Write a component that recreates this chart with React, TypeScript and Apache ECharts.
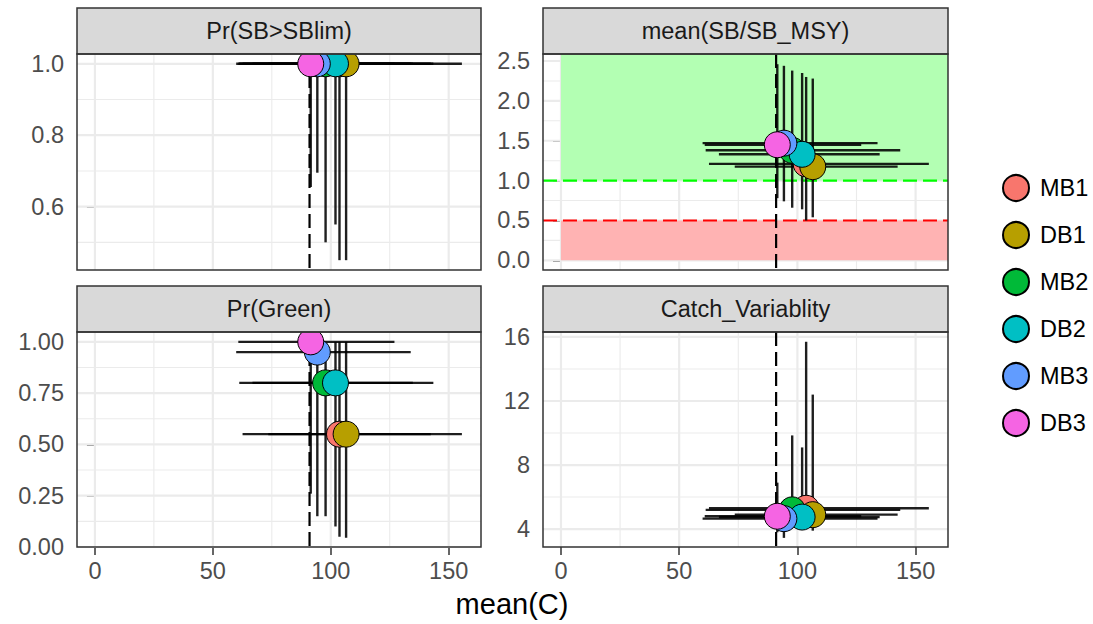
import React, { useEffect, useRef } from 'react';
import * as echarts from 'echarts';

// ---- data ----
const mps = ['MB1', 'DB1', 'MB2', 'DB2', 'MB3', 'DB3'];
const mpColors = ['#F8766D', '#B79F00', '#00BA38', '#00BFC4', '#619CFF', '#F564E3'];

// x: mean(C) with interval
const meanC = [103.7, 106.5, 97.8, 102.0, 94.3, 91.5];
const meanCLo = [62.6, 73.5, 61.2, 66.8, 59.9, 60.8];
const meanCHi = [155.6, 142.4, 143.5, 134.8, 133.9, 127.0];

const panelTitles = ['Pr(SB>SBlim)', 'mean(SB/SB_MSY)', 'Pr(Green)', 'Catch_Variablity'];

const prSB = [1.0, 1.0, 1.0, 1.0, 1.0, 1.0];
const prSBLo = [0.45, 0.45, 0.5, 0.55, 0.695, 0.655];
const prSBHi = [1.0, 1.0, 1.0, 1.0, 1.0, 1.0];

const sbMsy = [1.21, 1.175, 1.38, 1.33, 1.47, 1.45];
const sbMsyLo = [0.5, 0.54, 0.66, 0.64, 0.74, 0.78];
const sbMsyHi = [2.3, 2.28, 2.38, 2.35, 2.44, 2.46];

const prGreen = [0.55, 0.55, 0.8, 0.8, 0.95, 1.0];
const prGreenLo = [0.05, 0.045, 0.15, 0.1, 0.15, 0.26];
const prGreenHi = [1.0, 1.0, 1.0, 1.0, 1.0, 1.0];

const catchVar = [5.3, 4.9, 5.2, 4.75, 4.65, 4.8];
const catchVarLo = [4.3, 3.9, 4.3, 4.1, 3.45, 3.8];
const catchVarHi = [15.7, 12.4, 9.85, 9.1, 5.6, 6.9];

const refMeanC = [91];
// reference lines and zones for mean(SB/SB_MSY)
const sbRefLines = [1.0, 0.5];
const sbRefColors = ['#00FF00', '#FF0000'];
const zoneXMin = [0, 0];
const zoneYMin = [1.0, 0.0];
const zoneYMax = [Infinity, 0.5];
const zoneColors = ['#B3FFB3', '#FFB3B3'];

// ticks
const xTicks = [0, 50, 100, 150];
const xMinor = [25, 75, 125];
const yTicksList = [
  [0.6, 0.8, 1.0],
  [0.0, 0.5, 1.0, 1.5, 2.0, 2.5],
  [0.0, 0.25, 0.5, 0.75, 1.0],
  [4, 8, 12, 16],
];
const yMinorList = [
  [0.5, 0.7, 0.9],
  [0.25, 0.75, 1.25, 1.75, 2.25],
  [0.125, 0.375, 0.625, 0.875],
  [6, 10, 14],
];
const yDecimals = [1, 1, 2, 0];

const FONT = '"Liberation Sans", Arial, Helvetica, sans-serif';
const FS = 23.5;
const X_MIN = -7.6;
const X_MAX = 163.7;

const panelRects = [
  { left: 77, top: 54, width: 404, height: 216 },
  { left: 543, top: 54, width: 405, height: 216 },
  { left: 77, top: 332, width: 404, height: 215 },
  { left: 543, top: 332, width: 405, height: 215 },
];
const yRanges = [
  [0.4225, 1.0275],
  [-0.121, 2.588],
  [0, 1.048],
  [2.88, 16.31],
];
const STRIP_H = 46;

export default function App() {
  const ref = useRef<HTMLDivElement>(null);
  useEffect(() => {
    if (!ref.current) return;
    const chart = echarts.init(ref.current, undefined, { renderer: 'svg' });

    const yVals = [prSB, sbMsy, prGreen, catchVar];
    const yLos = [prSBLo, sbMsyLo, prGreenLo, catchVarLo];
    const yHis = [prSBHi, sbMsyHi, prGreenHi, catchVarHi];

    const grids: any[] = [];
    const xAxes: any[] = [];
    const yAxes: any[] = [];
    const series: any[] = [];
    const graphics: any[] = [];

    for (let p = 0; p < 4; p++) {
      const r = panelRects[p];
      const bottomRow = p >= 2;
      const [yMin, yMax] = yRanges[p];
      grids.push({ left: r.left, top: r.top, width: r.width, height: r.height, show: false });
      xAxes.push({
        type: 'value', gridIndex: p, min: X_MIN, max: X_MAX,
        axisLine: { show: false },
        splitLine: { show: false },
        axisTick: { show: bottomRow, customValues: xTicks, length: 8, lineStyle: { color: '#333333', width: 1.5 } },
        axisLabel: { show: bottomRow, customValues: xTicks, margin: 12, fontSize: FS, color: '#4D4D4D', fontFamily: FONT },
      });
      yAxes.push({
        type: 'value', gridIndex: p, min: yMin, max: yMax,
        axisLine: { show: false },
        splitLine: { show: false },
        axisTick: { show: true, customValues: yTicksList[p], length: 8, lineStyle: { color: '#333333', width: 1.5 } },
        axisLabel: {
          show: true, customValues: yTicksList[p], margin: 13, fontSize: FS, color: '#4D4D4D', fontFamily: FONT,
          formatter: (v: number) => Number(v).toFixed(yDecimals[p]),
        },
      });

      // grid lines
      const gl: number[][] = [];
      xTicks.forEach((v) => gl.push([v, 0, 1]));
      xMinor.forEach((v) => gl.push([v, 0, 0]));
      yTicksList[p].forEach((v) => gl.push([v, 1, 1]));
      yMinorList[p].forEach((v) => gl.push([v, 1, 0]));
      series.push({
        type: 'custom', xAxisIndex: p, yAxisIndex: p, z: 1, silent: true,
        data: gl,
        encode: { x: 0, y: 1 },
        renderItem: (params: any, api: any) => {
          const cs = params.coordSys;
          const v = api.value(0), o = api.value(1), m = api.value(2);
          const style = { stroke: '#EBEBEB', lineWidth: m ? 2.2 : 1.1 };
          if (o === 0) {
            const px = api.coord([v, yMin])[0];
            return { type: 'line', shape: { x1: px, y1: cs.y, x2: px, y2: cs.y + cs.height }, style };
          }
          const py = api.coord([X_MIN, v])[1];
          return { type: 'line', shape: { x1: cs.x, y1: py, x2: cs.x + cs.width, y2: py }, style };
        },
      });

      if (p === 1) {
        // zones
        series.push({
          type: 'custom', xAxisIndex: p, yAxisIndex: p, z: 2, silent: true,
          data: zoneXMin.map((x0, i) => [x0, zoneYMin[i], Math.min(zoneYMax[i], yMax), i]),
          encode: { x: 0, y: 1 },
          renderItem: (params: any, api: any) => {
            const cs = params.coordSys;
            const a = api.coord([api.value(0), api.value(1)]);
            const b = api.coord([api.value(0), api.value(2)]);
            const i = api.value(3);
            return {
              type: 'rect',
              shape: { x: a[0], y: b[1], width: cs.x + cs.width - a[0], height: a[1] - b[1] },
              style: { fill: zoneColors[i] },
            };
          },
        });
        // horizontal reference lines
        series.push({
          type: 'custom', xAxisIndex: p, yAxisIndex: p, z: 3, silent: true,
          data: sbRefLines.map((v, i) => [X_MIN, v, i]),
          encode: { x: 0, y: 1 },
          renderItem: (params: any, api: any) => {
            const cs = params.coordSys;
            const py = api.coord([X_MIN, api.value(1)])[1];
            return {
              type: 'line',
              shape: { x1: cs.x, y1: py, x2: cs.x + cs.width, y2: py },
              style: { stroke: sbRefColors[api.value(2)], lineWidth: 2.2, lineDash: [14, 6] },
            };
          },
        });
      }

      // vertical reference line
      series.push({
        type: 'custom', xAxisIndex: p, yAxisIndex: p, z: 3, silent: true,
        data: refMeanC.map((v) => [v, yMin]),
        encode: { x: 0, y: 1 },
        renderItem: (params: any, api: any) => {
          const cs = params.coordSys;
          const px = api.coord([api.value(0), yMin])[0];
          return {
            type: 'line',
            shape: { x1: px, y1: cs.y, x2: px, y2: cs.y + cs.height },
            style: { stroke: '#000000', lineWidth: 2.2, lineDash: [14, 6] },
          };
        },
      });

      // error bars
      series.push({
        type: 'custom', xAxisIndex: p, yAxisIndex: p, z: 4, silent: true,
        data: mps.map((_, i) => [meanC[i], yVals[p][i], meanCLo[i], meanCHi[i], yLos[p][i], yHis[p][i]]),
        encode: { x: 0, y: 1 },
        renderItem: (params: any, api: any) => {
          const x = api.value(0), y = api.value(1);
          const a = api.coord([api.value(2), y]);
          const b = api.coord([api.value(3), y]);
          const c = api.coord([x, api.value(4)]);
          const d = api.coord([x, api.value(5)]);
          const style = { stroke: 'rgba(0,0,0,0.88)', lineWidth: 2.4 };
          return {
            type: 'group',
            children: [
              { type: 'line', shape: { x1: a[0], y1: a[1], x2: b[0], y2: b[1] }, style },
              { type: 'line', shape: { x1: c[0], y1: c[1], x2: d[0], y2: d[1] }, style },
            ],
          };
        },
      });

      // points
      mps.forEach((name, i) => {
        series.push({
          type: 'scatter', name, xAxisIndex: p, yAxisIndex: p, z: 5 + i * 0.01,
          symbol: 'circle', symbolSize: 26,
          itemStyle: { color: mpColors[i], borderColor: '#000000', borderWidth: 1, opacity: 1 },
          emphasis: { disabled: true },
          data: [[meanC[i], yVals[p][i]]],
        });
      });

      // strip
      graphics.push({
        type: 'rect', z: 100,
        shape: { x: r.left, y: r.top - STRIP_H, width: r.width, height: STRIP_H },
        style: { fill: '#D9D9D9', stroke: '#333333', lineWidth: 1.5 },
      });
      graphics.push({
        type: 'text', z: 101,
        x: r.left + r.width / 2, y: r.top - STRIP_H / 2,
        style: { text: panelTitles[p], fontSize: FS, fontFamily: FONT, fill: '#1A1A1A', align: 'center', verticalAlign: 'middle' },
      });
      // panel border
      graphics.push({
        type: 'rect', z: 100,
        shape: { x: r.left, y: r.top, width: r.width, height: r.height },
        style: { fill: 'none', stroke: '#333333', lineWidth: 1.5 },
      });
    }

    graphics.push({
      type: 'text', z: 101, x: 512, y: 604,
      style: { text: 'mean(C)', fontSize: 29, fontFamily: FONT, fill: '#000000', align: 'center', verticalAlign: 'middle' },
    });

    chart.setOption({
      animation: false,
      backgroundColor: '#FFFFFF',
      grid: grids,
      xAxis: xAxes,
      yAxis: yAxes,
      series,
      graphic: { elements: graphics },
      legend: {
        data: mps,
        orient: 'vertical',
        left: 1002,
        top: 174,
        padding: 0,
        itemWidth: 26,
        itemHeight: 26,
        itemGap: 19,
        icon: 'circle',
        selectedMode: false,
        textStyle: { fontSize: FS, color: '#000000', fontFamily: FONT, padding: [0, 0, 0, 6] },
      },
    });
    return () => chart.dispose();
  }, []);
  return <div ref={ref} style={{ position: 'fixed', left: 0, top: 0, width: 1093, height: 624 }} />;
}
